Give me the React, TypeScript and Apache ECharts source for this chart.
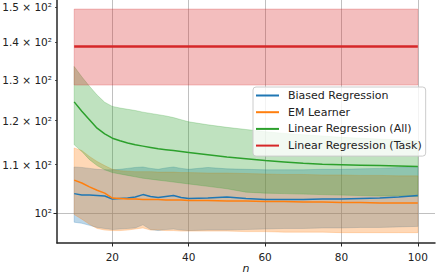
import React, { useEffect, useRef } from "react";
import * as echarts from "echarts";

// ---- data ----
const nValues = [10, 12, 14, 16, 18, 20, 22, 24, 26, 28, 30, 32, 34, 36, 38, 40, 45, 50, 55, 60, 65, 70, 75, 80, 85, 90, 95, 100];

const biasedMean = [103.9, 103.6, 103.6, 103.5, 103.4, 102.8, 102.9, 103.0, 103.2, 103.7, 103.3, 103.1, 103.3, 103.5, 103.1, 102.9, 103.0, 103.2, 102.9, 102.7, 102.7, 102.7, 102.8, 102.8, 102.9, 103.0, 103.2, 103.5];
const biasedUpper = [109.5, 109.4, 109.2, 109.0, 108.9, 108.9, 109.0, 109.2, 109.4, 109.5, 109.2, 109.0, 109.3, 109.5, 109.2, 109.0, 109.4, 109.1, 109.0, 108.9, 108.9, 108.9, 109.0, 109.0, 109.1, 109.2, 109.4, 109.6];
const biasedLower = [98.2, 98.0, 97.6, 97.2, 97.0, 96.8, 96.9, 97.0, 97.1, 97.7, 96.8, 96.6, 96.8, 96.9, 96.7, 96.6, 96.7, 96.7, 96.8, 96.9, 97.0, 97.0, 97.1, 97.1, 97.2, 97.2, 97.3, 97.4];

const emMean = [106.7, 106.1, 105.3, 104.6, 104.0, 103.0, 102.9, 102.8, 102.8, 102.7, 102.7, 102.7, 102.6, 102.6, 102.6, 102.5, 102.5, 102.4, 102.4, 102.3, 102.3, 102.2, 102.2, 102.1, 102.1, 102.0, 102.0, 102.0];
const emUpper = [113.7, 113.1, 111.8, 110.7, 109.8, 109.0, 108.7, 108.6, 108.5, 108.5, 108.5, 108.4, 108.4, 108.4, 108.3, 108.3, 108.2, 108.2, 108.1, 108.0, 107.9, 107.9, 107.8, 107.8, 107.7, 107.7, 107.6, 107.6];
const emLower = [99.7, 98.8, 97.8, 97.0, 96.7, 96.6, 96.6, 96.7, 96.9, 97.1, 96.7, 96.7, 96.6, 96.6, 96.5, 96.5, 96.5, 96.5, 96.4, 96.4, 96.3, 96.3, 96.3, 96.2, 96.2, 96.2, 96.2, 96.2];

const allMean = [124.5, 122.2, 120.2, 118.2, 116.9, 115.9, 115.3, 114.8, 114.4, 114.1, 113.8, 113.5, 113.3, 113.1, 112.9, 112.7, 112.2, 111.7, 111.3, 110.9, 110.6, 110.3, 110.1, 110.0, 109.9, 109.8, 109.7, 109.6];
const allUpper = [133.5, 130.8, 128.4, 126.2, 124.4, 123.4, 123.0, 122.7, 122.4, 122.0, 121.7, 121.4, 121.1, 120.7, 120.2, 119.7, 119.0, 118.4, 117.9, 117.4, 117.0, 116.7, 116.4, 116.1, 115.9, 115.7, 115.5, 115.3];
const allLower = [114.4, 112.9, 111.1, 109.8, 108.9, 108.3, 108.0, 107.7, 107.4, 107.1, 106.9, 106.7, 106.5, 106.3, 106.1, 105.9, 105.4, 104.9, 104.2, 104.0, 103.9, 103.8, 103.7, 103.6, 103.5, 103.4, 103.4, 103.3];

const taskN = [10, 100];
const taskMean = [138.9, 138.9];
const taskUpper = [149.5, 149.5];
const taskLower = [128.7, 128.7];

const seriesNames = ["Biased Regression", "EM Learner", "Linear Regression (All)", "Linear Regression (Task)"];

const xTicks = [20, 40, 60, 80, 100];
const yTickValues = [100, 110, 120, 130, 140, 150];
const yTickLabels = ["10²", "1.1 × 10²", "1.2 × 10²", "1.3 × 10²", "1.4 × 10²", "1.5 × 10²"];
const yMinorTicks = [110, 120, 130, 140, 150];
const yMajorTicks = [100];

// ---- styles ----
const FONT = "DejaVu Sans";
const AXIS_COLOR = "#262626";
const GRID_COLOR = "#b0b0b0";
const colors = ["#1f77b4", "#ff7f0e", "#2ca02c", "#d62728"];
const fills = ["rgba(31,119,180,0.3)", "rgba(255,127,14,0.3)", "rgba(44,160,44,0.3)", "rgba(214,39,40,0.3)"];

function band(name: string, fill: string, xs: number[], up: number[], lo: number[]) {
  return {
    type: "custom",
    name,
    silent: true,
    z: 1,
    xAxisIndex: 0,
    yAxisIndex: 0,
    data: xs.map((x, i) => [x, up[i], lo[i]]),
    encode: { x: 0, y: [1, 2] },
    renderItem: (params: any, api: any) => {
      if (params.dataIndex !== 0) return null;
      const pts: number[][] = [];
      for (let i = 0; i < xs.length; i++) pts.push(api.coord([xs[i], up[i]]));
      for (let i = xs.length - 1; i >= 0; i--) pts.push(api.coord([xs[i], lo[i]]));
      return { type: "polygon", shape: { points: pts }, style: { fill, stroke: fill, lineWidth: 0.8 } };
    },
  };
}

function line(name: string, color: string, xs: number[], ys: number[], width: number) {
  return {
    type: "line",
    name,
    z: 3,
    xAxisIndex: 0,
    yAxisIndex: 0,
    showSymbol: false,
    symbol: "none",
    data: xs.map((x, i) => [x, ys[i]]),
    lineStyle: { color, width },
    itemStyle: { color },
  };
}

export default function App() {
  const ref = useRef<HTMLDivElement>(null);
  useEffect(() => {
    const chart = echarts.init(ref.current!, null, { renderer: "svg" });
    const yLabel = (v: number) => {
      const i = yTickValues.findIndex((t) => Math.abs(t - v) < 0.5);
      return i >= 0 ? yTickLabels[i] : "";
    };
    const option: any = {
      animation: false,
      grid: { left: 57, right: 1, top: 0, bottom: 33, containLabel: false, outerBoundsMode: "none" },
      legend: {
        data: seriesNames,
        orient: "vertical",
        left: 253,
        top: 87,
        icon: "rect",
        itemWidth: 23,
        itemHeight: 2,
        itemGap: 3.7,
        selectedMode: false,
        textStyle: { fontFamily: FONT, fontSize: 11, color: "#222", lineHeight: 13, padding: [0, 0, 0, 4] },
        backgroundColor: "rgba(255,255,255,0.8)",
        borderColor: "#cccccc",
        borderWidth: 1,
        borderRadius: 3,
        padding: [2, 4, 4, 3],
      },
      xAxis: {
        type: "value",
        min: 5.5,
        max: 104.5,
        axisLine: { show: true, onZero: false, lineStyle: { color: AXIS_COLOR, width: 1.5 } },
        axisTick: { show: true, length: 3.5, customValues: xTicks, lineStyle: { color: AXIS_COLOR, width: 1 } },
        axisLabel: { customValues: xTicks, fontFamily: FONT, fontSize: 10.5, color: "#222", margin: 8 },
        splitLine: { show: true, lineStyle: { color: GRID_COLOR, width: 0.8 } },
        name: "n",
        nameLocation: "middle",
        nameGap: 20,
        nameMoveOverlap: false,
        nameTextStyle: { fontFamily: FONT, fontStyle: "italic", fontSize: 11, lineHeight: 11, color: "#222" },
      },
      yAxis: [
        {
          type: "log",
          logBase: 10,
          min: 94.26,
          max: 152.2,
          position: "left",
          axisLine: { show: true, onZero: false, lineStyle: { color: AXIS_COLOR, width: 1.5 } },
          axisTick: { show: true, length: 2, customValues: yMinorTicks, lineStyle: { color: AXIS_COLOR, width: 0.8 } },
          axisLabel: { customValues: yTickValues, formatter: yLabel, fontFamily: FONT, fontSize: 10.5, color: "#222", margin: 5 },
          splitLine: { show: false },
        },
        {
          type: "log",
          logBase: 10,
          min: 94.26,
          max: 152.2,
          position: "left",
          axisLine: { show: false },
          axisLabel: { show: false },
          axisTick: { show: true, length: 3.5, customValues: yMajorTicks, lineStyle: { color: AXIS_COLOR, width: 1 } },
          splitLine: { show: true, lineStyle: { color: GRID_COLOR, width: 0.8 } },
        },
      ],
      series: [
        band("band-biased", fills[0], nValues, biasedUpper, biasedLower),
        band("band-em", fills[1], nValues, emUpper, emLower),
        band("band-all", fills[2], nValues, allUpper, allLower),
        band("band-task", fills[3], taskN, taskUpper, taskLower),
        line(seriesNames[0], colors[0], nValues, biasedMean, 1.5),
        line(seriesNames[1], colors[1], nValues, emMean, 1.5),
        line(seriesNames[2], colors[2], nValues, allMean, 1.5),
        line(seriesNames[3], colors[3], taskN, taskMean, 2.5),
      ],
    };
    chart.setOption(option);
    return () => chart.dispose();
  }, []);
  return <div ref={ref} style={{ position: "absolute", left: 0, top: 0, width: 436, height: 276 }} />;
}
